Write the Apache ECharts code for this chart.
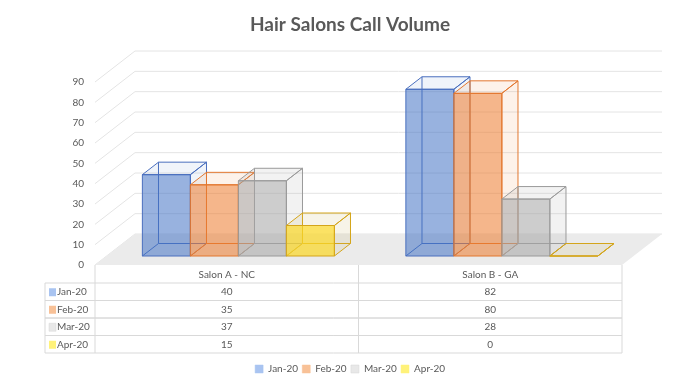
<!DOCTYPE html>
<html>
<head>
<meta charset="utf-8">
<script src="https://cdn.jsdelivr.net/npm/echarts@6/dist/echarts.min.js"></script>
<style>html,body{margin:0;padding:0;background:#fff}#c{width:700px;height:391px}</style>
</head>
<body>
<div id="c"></div>
<script>
// ---- data ----
const categories = ['Salon A - NC', 'Salon B - GA'];
const months = ['Jan-20', 'Feb-20', 'Mar-20', 'Apr-20'];
const jan20 = [40, 82];
const feb20 = [35, 80];
const mar20 = [37, 28];
const apr20 = [15, 0];
const yTicks = [0, 10, 20, 30, 40, 50, 60, 70, 80, 90];
const seriesValues = [jan20, feb20, mar20, apr20];

// ---- styles / layout ----
const styles = [
  { front: 'rgba(68,114,196,0.55)', edge: '#4a6fbe', face: 'rgba(68,114,196,0.08)', key: '#a9c4f1' },
  { front: 'rgba(237,125,49,0.56)', edge: '#e2772f', face: 'rgba(237,125,49,0.10)', key: '#f8c197' },
  { front: 'rgba(165,165,165,0.56)', edge: '#9a9a9a', face: 'rgba(165,165,165,0.14)', key: '#e8e8e8' },
  { front: 'rgba(250,215,40,0.72)', edge: '#d4a51a', face: 'rgba(200,180,90,0.14)', key: '#fff27a' }
];
const DX = 40, DY = -31;          // full depth offset
const F1 = 9 / 31, F2 = 21.5 / 31; // bar depth position
const BW = 48 / 263.5;            // bar width relative to band
const TXT = '#595959';
const FONT = 'Lato';

const chart = echarts.init(document.getElementById('c'));

function wallRender(params, api) {
  const cs = params.coordSys;
  const v = api.value(0);
  const p = api.coord([0, v]);
  const L = cs.x, R = cs.x + cs.width, y = p[1];
  return {
    type: 'polyline',
    shape: { points: [[L, y], [L + DX, y + DY], [R + DX, y + DY]] },
    style: { stroke: '#e4e4e4', lineWidth: 1, fill: null }
  };
}

function floorRender(params, api) {
  const cs = params.coordSys;
  const y = api.coord([0, 0])[1];
  const L = cs.x, R = cs.x + cs.width;
  return {
    type: 'polygon',
    shape: { points: [[L, y], [L + DX, y + DY], [R + DX, y + DY], [R, y]] },
    style: { fill: '#ebebeb' }
  };
}

function makeBarRender(si) {
  const st = styles[si];
  return function (params, api) {
    const c = api.value(0), v = api.value(1);
    const base = api.coord([c, 0]);
    const top = api.coord([c, v]);
    const band = api.size([1, 0])[0];
    const w = band * BW;
    const x0 = base[0] + (si - 2) * w + F1 * DX;
    const yb = base[1] + F1 * DY;
    const yt = top[1] + F1 * DY;
    const ox = (F2 - F1) * DX, oy = (F2 - F1) * DY;
    const ls = { stroke: st.edge, lineWidth: 1, fill: null };
    const fs = { fill: st.face, stroke: st.edge, lineWidth: 1 };
    return {
      type: 'group',
      children: [
        { type: 'line', shape: { x1: x0 + ox, y1: yb + oy, x2: x0 + ox, y2: yt + oy }, style: ls },
        { type: 'line', shape: { x1: x0 + ox, y1: yb + oy, x2: x0 + w + ox, y2: yb + oy }, style: ls },
        { type: 'line', shape: { x1: x0, y1: yb, x2: x0 + ox, y2: yb + oy }, style: ls },
        { type: 'polygon', shape: { points: [[x0 + w, yb], [x0 + w + ox, yb + oy], [x0 + w + ox, yt + oy], [x0 + w, yt]] }, style: fs },
        { type: 'polygon', shape: { points: [[x0, yt], [x0 + ox, yt + oy], [x0 + w + ox, yt + oy], [x0 + w, yt]] }, style: fs },
        { type: 'rect', shape: { x: x0, y: yt, width: w, height: yb - yt }, style: { fill: st.front, stroke: st.edge, lineWidth: 1 } }
      ]
    };
  };
}

function tableRender(params, api) {
  const cs = params.coordSys;
  const row = api.value(0);
  const L = cs.x, R = cs.x + cs.width;
  const y0 = api.coord([0, 0])[1];
  const HH = 18, RH = 17.5, LC = L - 50;
  const line = { stroke: '#d9d9d9', lineWidth: 1 };
  const children = [];
  if (row < 0) {
    const bottom = y0 + HH + RH * months.length;
    children.push({ type: 'line', shape: { x1: L, y1: y0, x2: L, y2: bottom }, style: line });
    children.push({ type: 'line', shape: { x1: R, y1: y0, x2: R, y2: bottom }, style: line });
    children.push({ type: 'line', shape: { x1: (L + R) / 2, y1: y0, x2: (L + R) / 2, y2: bottom }, style: line });
    children.push({ type: 'line', shape: { x1: LC, y1: y0 + HH, x2: LC, y2: bottom }, style: line });
    categories.forEach((cat, ci) => {
      const x = api.coord([ci, 0])[0];
      children.push({ type: 'text', style: { text: cat, x: x, y: y0 + HH / 2 + 1, align: 'center', verticalAlign: 'middle', fill: TXT, fontSize: 10, fontFamily: FONT } });
    });
    return { type: 'group', children };
  }
  const yTop = y0 + HH + RH * row;
  const yc = yTop + RH / 2 + 0.5;
  children.push({ type: 'line', shape: { x1: LC, y1: yTop, x2: R, y2: yTop }, style: line });
  children.push({ type: 'line', shape: { x1: LC, y1: yTop + RH, x2: R, y2: yTop + RH }, style: line });
  children.push({ type: 'rect', shape: { x: LC + 4, y: yc - 4, width: 7, height: 8 }, style: { fill: styles[row].key, stroke: row === 2 ? '#d6d6d6' : null, lineWidth: 0.5 } });
  children.push({ type: 'text', style: { text: months[row], x: LC + 12, y: yc, align: 'left', verticalAlign: 'middle', fill: TXT, fontSize: 10, fontFamily: FONT } });
  categories.forEach((cat, ci) => {
    const x = api.coord([ci, 0])[0];
    children.push({ type: 'text', style: { text: String(seriesValues[row][ci]), x: x, y: yc, align: 'center', verticalAlign: 'middle', fill: TXT, fontSize: 10, fontFamily: FONT } });
  });
  return { type: 'group', children };
}

const series = [
  { type: 'custom', name: 'walls', renderItem: wallRender, data: yTicks.map(v => [v]), z: 1, silent: true },
  { type: 'custom', name: 'floor', renderItem: floorRender, data: [[0]], z: 2, silent: true }
];
months.forEach((m, si) => {
  series.push({
    type: 'custom', name: m, renderItem: makeBarRender(si), z: 3 + si,
    itemStyle: { color: styles[si].key },
    data: categories.map((c, ci) => [ci, seriesValues[si][ci]])
  });
});
series.push({ type: 'custom', name: 'table', renderItem: tableRender, data: [[-1], [0], [1], [2], [3]], z: 10, silent: true });

chart.setOption({
  animation: false,
  title: {
    text: 'Hair Salons Call Volume', left: 'center', top: 10,
    textStyle: { fontSize: 19, fontWeight: 'bold', color: TXT, fontFamily: FONT }
  },
  legend: {
    bottom: 12, left: 'center', itemWidth: 8, itemHeight: 8, itemGap: 4,
    textStyle: { fontSize: 10, color: TXT, fontFamily: FONT },
    data: months.map((m, i) => ({ name: m, icon: 'rect', itemStyle: { color: styles[i].key, borderColor: i === 2 ? '#d6d6d6' : styles[i].key, borderWidth: 0.5 } }))
  },
  grid: { left: 95, right: 78, top: 82, bottom: 126 },
  xAxis: {
    type: 'category', data: categories, boundaryGap: true,
    axisLine: { show: false }, axisTick: { show: false }, axisLabel: { show: false }, splitLine: { show: false }
  },
  yAxis: {
    type: 'value', min: 0, max: 90, interval: 10,
    axisLine: { show: false }, axisTick: { show: false }, splitLine: { show: false },
    axisLabel: { color: TXT, fontSize: 10, margin: 11, fontFamily: FONT }
  },
  series
});
</script>
</body>
</html>
